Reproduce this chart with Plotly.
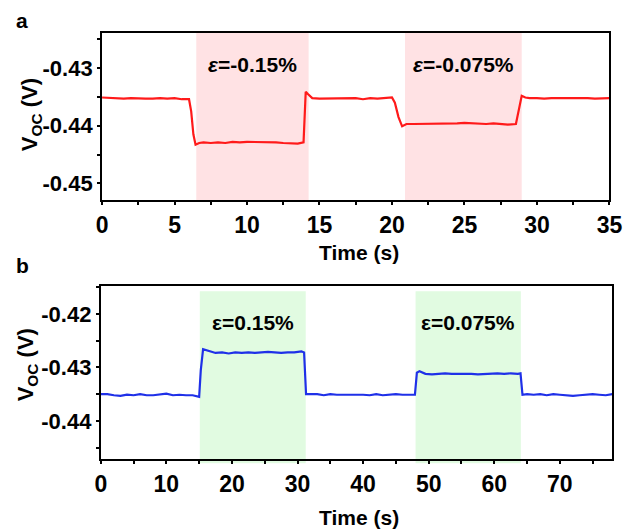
import plotly.graph_objects as go

# ---- Panel a: compressive strain steps (time in s, Voc in V) ----
t_a = [0.0, 0.5, 1.0, 1.5, 2.0, 2.5, 3.0, 3.5, 4.0, 4.5, 5.0, 5.5, 6.0,
       6.15, 6.3, 6.45, 6.7, 7.0, 7.5, 8.0, 8.5, 9.0, 9.5, 10.0, 10.5, 11.0,
       11.5, 12.0, 12.5, 13.0, 13.5, 13.9, 14.05, 14.2, 14.5, 15.0, 15.5,
       16.0, 16.5, 17.0, 17.5, 18.0, 18.5, 19.0, 19.5, 20.0, 20.2, 20.45,
       20.7, 21.0, 21.5, 22.0, 22.5, 23.0, 23.5, 24.0, 24.5, 25.0, 25.5,
       26.0, 26.5, 27.0, 27.5, 28.0, 28.55, 28.75, 28.95, 29.2, 29.5, 30.0,
       30.5, 31.0, 31.5, 32.0, 32.5, 33.0, 33.5, 34.0, 34.5, 35.0]
v_a = [-0.4351, -0.4352, -0.4352, -0.4353, -0.4352, -0.4353, -0.4353,
       -0.4353, -0.4352, -0.4353, -0.4352, -0.4354, -0.4354,
       -0.4375, -0.4415, -0.4433, -0.4430, -0.4429, -0.4430, -0.4429,
       -0.4430, -0.4428, -0.4429, -0.4428, -0.4428, -0.4429, -0.4429,
       -0.4429, -0.4430, -0.4430, -0.4431, -0.4429, -0.4341, -0.4345,
       -0.4352, -0.4353, -0.4353, -0.4352, -0.4352, -0.4353, -0.4352,
       -0.4354, -0.4352, -0.4353, -0.4352, -0.4351, -0.4360, -0.4385,
       -0.4401, -0.4397, -0.4397, -0.4397, -0.4396, -0.4397, -0.4396,
       -0.4396, -0.4396, -0.4395, -0.4396, -0.4396, -0.4397, -0.4396,
       -0.4397, -0.4398, -0.4397, -0.4372, -0.4348, -0.4351, -0.4352,
       -0.4352, -0.4353, -0.4352, -0.4352, -0.4351, -0.4352, -0.4352,
       -0.4352, -0.4353, -0.4353, -0.4352]

# ---- Panel b: tensile strain steps ----
t_b = [0, 1, 2, 3, 4, 5, 6, 7, 8, 9, 10, 11, 12, 13, 14, 15.0, 15.25, 15.6,
       16.5, 17.5, 18.5, 19.5, 20.5, 21.5, 22.5, 23.5, 24.5, 25.5, 26.5,
       27.5, 28.5, 29.5, 30.6, 31.0, 31.3, 32, 33, 34, 35, 36, 37, 38, 39,
       40, 41, 42, 43, 44, 45, 46, 47, 47.9, 48.2, 48.6, 49.5, 50.5, 51.5,
       52.5, 53.5, 54.5, 55.5, 56.5, 57.5, 58.5, 59.5, 60.5, 61.5, 62.5,
       63.6, 64.0, 64.3, 65, 66, 67, 68, 69, 70, 71, 72, 73, 74, 75, 76,
       77, 78]
v_b = [-0.4350, -0.4350, -0.4352, -0.4353, -0.4351, -0.4352, -0.4350,
       -0.4352, -0.4352, -0.4350, -0.4349, -0.4352, -0.4351, -0.4352,
       -0.4352, -0.4355, -0.4305, -0.4266, -0.4270, -0.4273, -0.4272,
       -0.4274, -0.4272, -0.4273, -0.4272, -0.4273, -0.4272, -0.4271,
       -0.4272, -0.4273, -0.4272, -0.4272, -0.4270, -0.4272, -0.4350,
       -0.4350, -0.4350, -0.4352, -0.4350, -0.4351, -0.4351, -0.4350,
       -0.4351, -0.4351, -0.4352, -0.4350, -0.4352, -0.4351, -0.4350,
       -0.4351, -0.4351, -0.4351, -0.4310, -0.4307, -0.4312, -0.4313,
       -0.4312, -0.4311, -0.4312, -0.4312, -0.4311, -0.4312, -0.4313,
       -0.4312, -0.4312, -0.4311, -0.4312, -0.4311, -0.4312, -0.4311,
       -0.4351, -0.4350, -0.4351, -0.4350, -0.4352, -0.4350, -0.4351,
       -0.4352, -0.4353, -0.4352, -0.4351, -0.4350, -0.4351, -0.4352,
       -0.4350]

# strain windows (start, end, label)
win_a = [(6.5, 14.25, "<i>ε</i>=-0.15%"), (20.9, 28.95, "<i>ε</i>=-0.075%")]
win_b = [(15.1, 31.25, "ε=0.15%"), (48.0, 64.05, "ε=0.075%")]

xticks_a = [0, 5, 10, 15, 20, 25, 30, 35]
yticks_a = [-0.45, -0.44, -0.43]
xticks_b = [0, 10, 20, 30, 40, 50, 60, 70]
yticks_b = [-0.44, -0.43, -0.42]

FONT = "Arial, Liberation Sans, sans-serif"
W, H = 636, 529

fig = go.Figure()
fig.add_trace(go.Scatter(x=t_a, y=v_a, mode="lines", xaxis="x", yaxis="y",
                         line=dict(color="#ff1a1a", width=2.2), showlegend=False))
fig.add_trace(go.Scatter(x=t_b, y=v_b, mode="lines", xaxis="x2", yaxis="y2",
                         line=dict(color="#1f30e8", width=2.2), showlegend=False))


def axis_common():
    return dict(showline=True, linecolor="black", linewidth=2, mirror=True,
                ticks="outside", ticklen=3, tickwidth=1.5, tickcolor="black",
                showgrid=False, zeroline=False,
                tickfont=dict(family=FONT, size=23, color="black", weight="bold"))


xa = axis_common()
xa.update(domain=[99 / W, 622 / W], range=[0, 35], anchor="y",
          tickvals=xticks_a, ticktext=[str(v) for v in xticks_a],
          minor=dict(tickvals=[v + 2.5 for v in xticks_a[:-1]], ticks="outside",
                     ticklen=3, tickcolor="black"))
ya = axis_common()
ya.update(domain=[1 - 200 / H, 1 - 33 / H], range=[-0.4529, -0.4239], anchor="x",
          tickvals=yticks_a, ticktext=[f"-{abs(v):.2f}" for v in yticks_a],
          tickfont=dict(family=FONT, size=22, color="black", weight="bold"),
          minor=dict(tickvals=[-0.445, -0.435, -0.425], ticks="outside",
                     ticklen=3, tickcolor="black"))
xb = axis_common()
xb.update(domain=[97.7 / W, 625 / W], range=[0, 78], anchor="y2",
          tickvals=xticks_b, ticktext=[str(v) for v in xticks_b],
          minor=dict(tickvals=[v + 5 for v in xticks_b], ticks="outside",
                     ticklen=3, tickcolor="black"))
yb = axis_common()
yb.update(domain=[1 - 459 / H, 1 - 286 / H], range=[-0.4471, -0.4148], anchor="x2",
          tickvals=yticks_b, ticktext=[f"-{abs(v):.2f}" for v in yticks_b],
          tickfont=dict(family=FONT, size=22, color="black", weight="bold"),
          minor=dict(tickvals=[-0.445, -0.435, -0.425, -0.415], ticks="outside",
                     ticklen=3, tickcolor="black"))

shapes = []
annots = []
lab_font = dict(family=FONT, size=21, color="black", weight="bold")
for x0, x1, lab in win_a:
    shapes.append(dict(type="rect", xref="x", yref="y domain", x0=x0, x1=x1,
                       y0=0, y1=1.01, fillcolor="#ffe2e4", line=dict(width=0),
                       layer="below"))
    annots.append(dict(x=(x0 + x1) / 2, y=1 - 65 / H, xref="x", yref="paper",
                       xanchor="center", yanchor="middle",
                       text=lab, showarrow=False, font=lab_font))
for x0, x1, lab in win_b:
    shapes.append(dict(type="rect", xref="x2", yref="y2 domain", x0=x0, x1=x1,
                       y0=-0.025, y1=0.97, fillcolor="#e1fbe1", line=dict(width=0),
                       layer="below"))
    annots.append(dict(x=(x0 + x1) / 2, y=1 - 323 / H, xref="x2", yref="paper",
                       xanchor="center", yanchor="middle",
                       text=lab, showarrow=False, font=lab_font))

bold = dict(family=FONT, color="black", weight="bold")


def note(x, y, text, size, angle=0):
    return dict(x=x / W, y=1 - y / H, xref="paper", yref="paper", text=text,
                xanchor="center", yanchor="middle", textangle=angle,
                showarrow=False, font=dict(size=size, **bold))


# axis titles and panel letters
annots += [
    note(364, 252, "Time (s)", 21),
    note(364, 517, "Time (s)", 21),
    note(26, 115, "V<sub>OC</sub> (V)", 22, -90),
    note(22, 365, "V<sub>OC</sub> (V)", 22, -90),
    note(17, 20, "a", 21),
    note(17, 265, "b", 21),
]

fig.update_layout(width=W, height=H, margin=dict(l=0, r=0, t=0, b=0),
                  paper_bgcolor="white", plot_bgcolor="rgba(0,0,0,0)",
                  xaxis=xa, yaxis=ya, xaxis2=xb, yaxis2=yb,
                  shapes=shapes, annotations=annots)

fig.write_html("out.html")
